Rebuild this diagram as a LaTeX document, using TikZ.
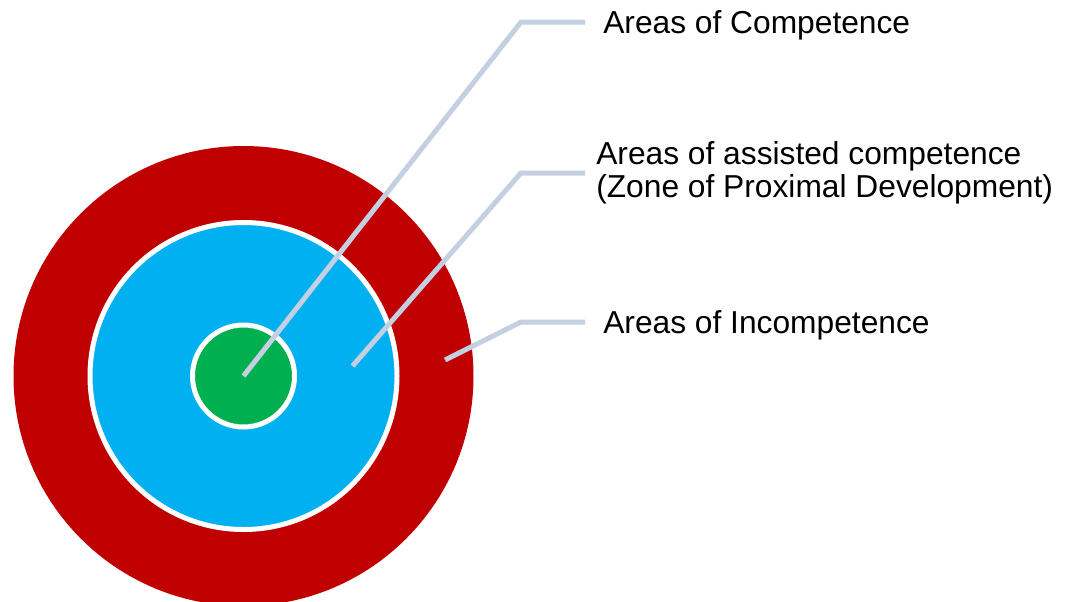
\documentclass[tikz,border=0pt]{standalone}
\usepackage{fontspec}
\setmainfont{Liberation Sans}
\usetikzlibrary{positioning}
\def \pu {0.75pt}
\definecolor{zoneRed}{HTML}{C00000}
\definecolor{zoneBlue}{HTML}{00B0F0}
\definecolor{zoneGreen}{HTML}{00B050}
\definecolor{pointerGray}{HTML}{C5CFE2}

\begin{document}
\begin{tikzpicture}[x=\pu,y=-\pu,
    ring/.style={circle,draw=white,line width=5*\pu,inner sep=0pt},
    lbl/.style={anchor=base west,inner sep=0pt,align=left,font=\fontsize{23.8}{24.75}\selectfont},
    pointer/.style={draw=pointerGray,line width=5*\pu}]
    \clip (0,0) rectangle (1067,601);
    \node[circle,fill=zoneRed,inner sep=0pt,minimum size=460*\pu] (I) at (243.5,376) {};
    \node[ring,fill=zoneBlue,minimum size=307*\pu] (A) at (243.5,376) {};
    \node[ring,fill=zoneGreen,minimum size=102*\pu] (C) at (243.5,376) {};
    \node[lbl] (compText) at (603,33) {Areas of Competence};
    \node[lbl,anchor=west] (zpdText) at (596,173) {Areas of assisted competence\\(Zone of Proximal Development)};
    \node[lbl] (incText) at (603,333) {Areas of Incompetence};
    \coordinate (compBend) at (521,22);
    \coordinate (compEnd) at (585,22);
    \coordinate (zpdTip) at (352.5,366);
    \coordinate (zpdBend) at (521,173);
    \coordinate (zpdEnd) at (585,173);
    \coordinate (incTip) at (445,360);
    \coordinate (incBend) at (521,322);
    \coordinate (incEnd) at (585,322);
    \path[pointer] (C.center) -- (compBend) -- (compEnd);
    \path[pointer] (zpdTip) -- (zpdBend) -- (zpdEnd);
    \path[pointer] (incTip) -- (incBend) -- (incEnd);
\end{tikzpicture}
\end{document}
